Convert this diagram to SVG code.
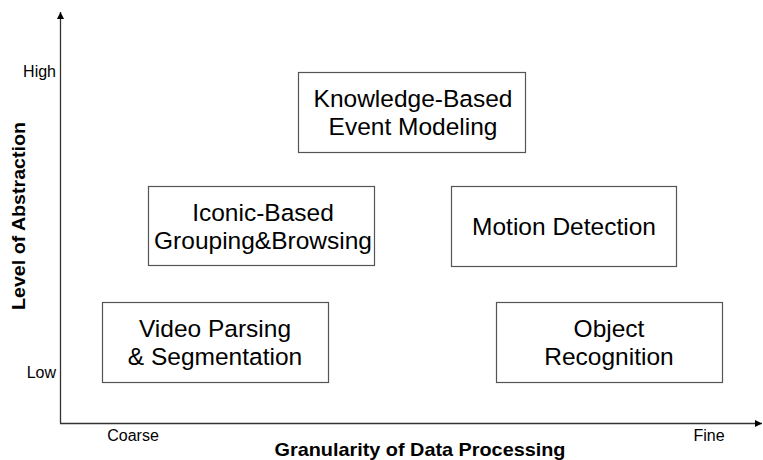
<svg xmlns="http://www.w3.org/2000/svg" width="763" height="460" viewBox="0 0 763 460">
<defs>
<style>
.box{fill:#fff;stroke:#555;stroke-width:1.2}
.t{font-family:"Liberation Sans",Arial,sans-serif;font-size:24.5px;fill:#000;text-anchor:middle}
.s{font-family:"Liberation Sans",Arial,sans-serif;font-size:16px;fill:#000}
.b{font-family:"Liberation Sans",Arial,sans-serif;font-size:18.5px;font-weight:bold;fill:#000;text-anchor:middle}
.ax{stroke:#333;stroke-width:1.3;fill:none}
</style>
<marker id="ah" viewBox="0 0 10 10" refX="10" refY="5" markerWidth="7" markerHeight="7" markerUnits="userSpaceOnUse" orient="auto">
<path d="M0,0 L10,5 L0,10 z" fill="#000"/>
</marker>
</defs>
<rect width="763" height="460" fill="#fff"/>
<g id="axes">
<line class="ax" x1="60.5" y1="423.5" x2="60.5" y2="12" marker-end="url(#ah)"/>
<line class="ax" x1="60" y1="423.5" x2="762" y2="423.5" marker-end="url(#ah)"/>
<text class="s" x="56" y="77" text-anchor="end">High</text>
<text class="s" x="56" y="378" text-anchor="end">Low</text>
<text class="s" x="133" y="441" text-anchor="middle">Coarse</text>
<text class="s" x="709" y="441" text-anchor="middle">Fine</text>
<text class="b" x="420" y="456" textLength="291" lengthAdjust="spacingAndGlyphs">Granularity of Data Processing</text>
<text class="b" transform="translate(25,216) rotate(-90)" textLength="188" lengthAdjust="spacingAndGlyphs">Level of Abstraction</text>
</g>
<g id="knowledge">
<rect class="box" x="298.5" y="72.5" width="227" height="80"/>
<text class="t" x="413" y="107">Knowledge-Based</text>
<text class="t" x="413" y="135">Event Modeling</text>
</g>
<g id="iconic">
<rect class="box" x="148.5" y="186.5" width="226" height="79"/>
<text class="t" x="263" y="221">Iconic-Based</text>
<text class="t" x="263" y="249">Grouping&amp;Browsing</text>
</g>
<g id="motion">
<rect class="box" x="451.5" y="186.5" width="225" height="80"/>
<text class="t" x="564" y="235">Motion Detection</text>
</g>
<g id="video">
<rect class="box" x="102.5" y="302.5" width="226" height="80"/>
<text class="t" x="215" y="337">Video Parsing</text>
<text class="t" x="215" y="365">&amp; Segmentation</text>
</g>
<g id="object">
<rect class="box" x="496.5" y="302.5" width="226" height="80"/>
<text class="t" x="609" y="337">Object</text>
<text class="t" x="609" y="365">Recognition</text>
</g>
</svg>
